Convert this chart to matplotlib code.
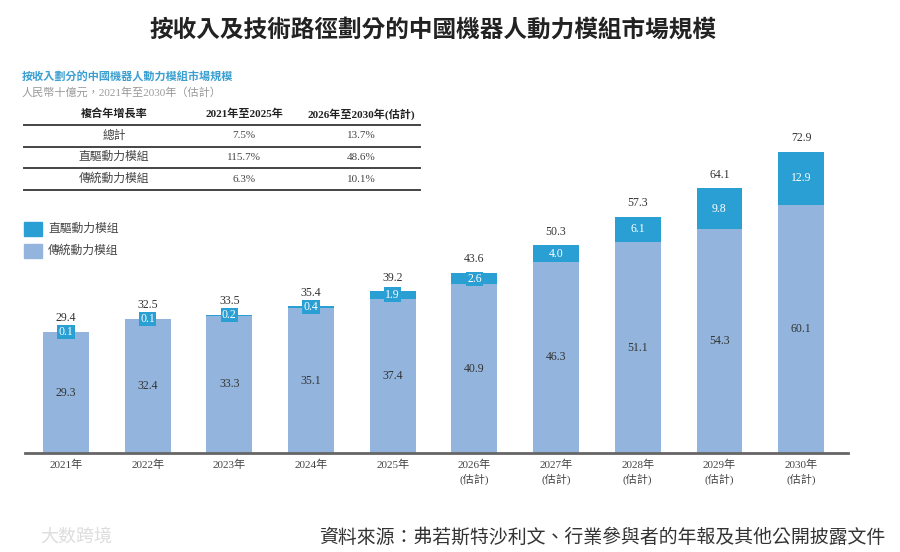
import numpy as np
import matplotlib.pyplot as plt
from matplotlib.lines import Line2D

plt.rcParams['font.family'] = ['Liberation Serif', 'Noto Sans CJK TC', 'DejaVu Sans']

years = ['2021年', '2022年', '2023年', '2024年', '2025年',
         '2026年\n(估計)', '2027年\n(估計)', '2028年\n(估計)', '2029年\n(估計)', '2030年\n(估計)']
traditional = [29.3, 32.4, 33.3, 35.1, 37.4, 40.9, 46.3, 51.1, 54.3, 60.1]
direct = [0.1, 0.1, 0.2, 0.4, 1.9, 2.6, 4.0, 6.1, 9.8, 12.9]
totals = [29.4, 32.5, 33.5, 35.4, 39.2, 43.6, 50.3, 57.3, 64.1, 72.9]

cagr_header = ['複合年增長率', '2021年至2025年', '2026年至2030年(估計)']
cagr_rows = [['總計', '7.5%', '13.7%'],
             ['直驅動力模組', '115.7%', '48.6%'],
             ['傳統動力模組', '6.3%', '10.1%']]

c_direct = '#2A9FD3'
c_trad = '#93B5DD'
W, H = 900, 552


def fx(x):
    return x / W


def fy(y):
    return 1 - y / H


fig = plt.figure(figsize=(9, 5.52), dpi=100)
ax = fig.add_axes([fx(25), fy(453), fx(848) - fx(25), fy(100) - fy(453)])

x = np.arange(len(years))
ax.bar(x, traditional, width=0.56, color=c_trad)
ax.bar(x, direct, width=0.56, bottom=traditional, color=c_direct)

for i in x:
    ax.text(i, traditional[i] / 2, f'{traditional[i]:.1f}', ha='center', va='center',
            fontsize=8.5, color='#333333')
    ax.text(i, traditional[i] + direct[i] / 2, f'{direct[i]:.1f}', ha='center', va='center',
            fontsize=8.5, color='white',
            bbox=dict(boxstyle='square,pad=0.1', fc=c_direct, ec='none'))
    ax.annotate(f'{totals[i]:.1f}', (i, totals[i]), xytext=(0, 5.5), textcoords='offset points',
                ha='center', va='bottom', fontsize=8.5, color='#333333')

ax.set_xlim(-0.502, 9.575)
ax.set_ylim(0, 85.5)
ax.set_xticks(x)
ax.set_xticklabels(years, fontsize=8, color='#444444', linespacing=1.3)
ax.tick_params(axis='x', length=0, pad=5)
ax.set_yticks([])
for s in ['top', 'right', 'left']:
    ax.spines[s].set_visible(False)
ax.spines['bottom'].set_color('#666666')
ax.spines['bottom'].set_linewidth(2)

# titles
fig.text(fx(433), fy(30), '按收入及技術路徑劃分的中國機器人動力模組市場規模', ha='center', va='center',
         fontsize=17, fontweight='bold', color='#222222')
fig.text(fx(22), fy(77), '按收入劃分的中國機器人動力模組市場規模', ha='left', va='center',
         fontsize=8, fontweight='bold', color='#3A9FD0')
fig.text(fx(22), fy(92), '人民幣十億元，2021年至2030年（估計）', ha='left', va='center',
         fontsize=8, color='#999999')

# CAGR table
col_x = [114, 244, 361]
for c, head in enumerate(cagr_header):
    fig.text(fx(col_x[c]), fy(114), head, ha='center', va='center', fontsize=8,
             fontweight='bold', color='#222222')
row_y = [136, 157, 179]
for r, row in enumerate(cagr_rows):
    for c, val in enumerate(row):
        fig.text(fx(col_x[c]), fy(row_y[r]), val, ha='center', va='center',
                 fontsize=8.5 if c == 0 else 8, color='#444444')
for ly in [125, 147, 168, 190]:
    fig.add_artist(Line2D([fx(24), fx(420)], [fy(ly), fy(ly)], color='#444444', lw=1.4))

# legend
fig.patches.append(plt.Rectangle((fx(24), fy(236)), fx(18), fy(222) - fy(236),
                                 transform=fig.transFigure, color=c_direct))
fig.patches.append(plt.Rectangle((fx(24), fy(258)), fx(18), fy(244) - fy(258),
                                 transform=fig.transFigure, color=c_trad))
fig.text(fx(48), fy(229), '直驅動力模组', ha='left', va='center', fontsize=8.5, color='#444444')
fig.text(fx(48), fy(251), '傳統動力模组', ha='left', va='center', fontsize=8.5, color='#444444')

# source and watermark
fig.text(fx(885), fy(537), '資料來源：弗若斯特沙利文、行業參與者的年報及其他公開披露文件',
         ha='right', va='center', fontsize=13.6, style='italic', color='#333333')
fig.text(fx(40), fy(537), '大数跨境', ha='left', va='center', fontsize=13,
         family=['Noto Sans CJK SC'], color='#DDDDDD')

fig.savefig('out.png', dpi=100)
